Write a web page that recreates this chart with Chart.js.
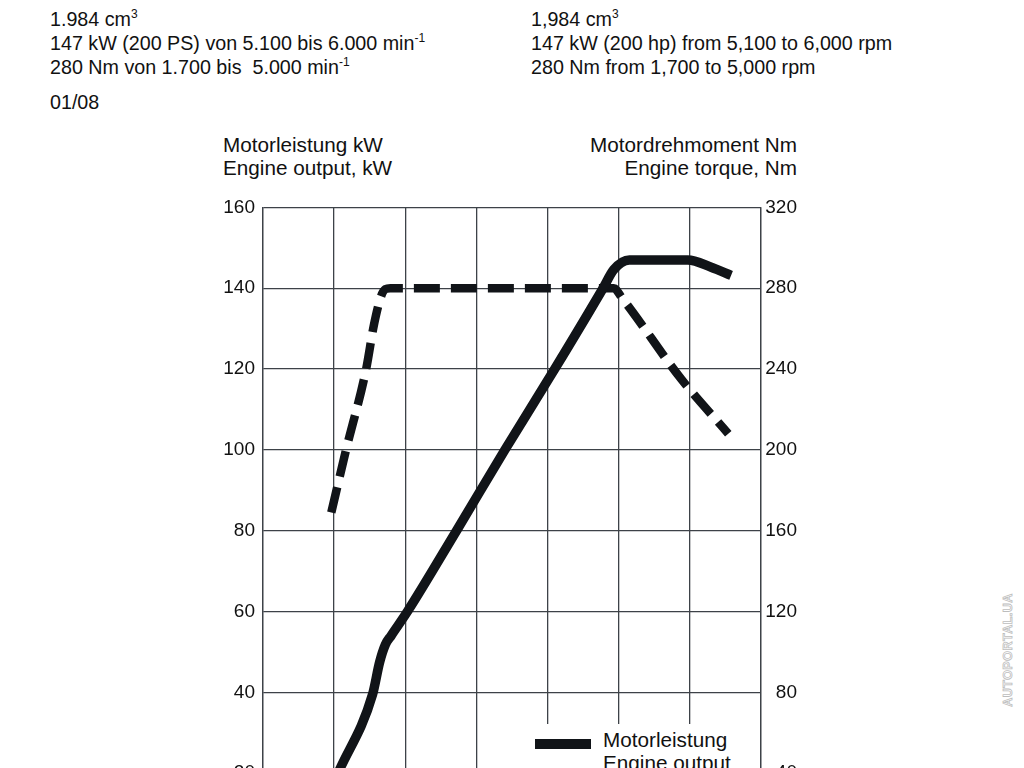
<!DOCTYPE html>
<html>
<head>
<meta charset="utf-8">
<script src="https://cdn.jsdelivr.net/npm/chart.js@4"></script>
<style>
    html, body { margin: 0; padding: 0; background: #fff; }
    body { width: 1024px; height: 768px; overflow: hidden; position: relative;
           font-family: "Liberation Sans", Arial, sans-serif; color: #111; }
    .txt { position: absolute; font-size: 19.7px; line-height: 24px; white-space: nowrap; }
    .txt sup { font-size: 12px; line-height: 0; vertical-align: 8px; }
    .axis-title { position: absolute; font-size: 20.7px; line-height: 23px; white-space: nowrap; }
    #chart-box { position: absolute; left: 223px; top: 188px; width: 574px; height: 706px; }
    #legend { position: absolute; left: 528px; top: 724px; width: 228px; height: 130px;
              background: #fff; z-index: 2; }
    .swatch { position: absolute; left: 7px; width: 56px; height: 10px; }
    .legend-label { position: absolute; left: 75px; font-size: 20.7px; line-height: 23px; white-space: nowrap; }
    #watermark { position: absolute; left: 1008px; top: 650px; transform: translate(-50%, -50%) rotate(-90deg);
                 font-size: 12.5px; font-weight: bold; letter-spacing: 0.5px; color: #fff;
                 -webkit-text-stroke: 0.8px #bdbdbd; white-space: nowrap; }
</style>
</head>
<body>

<div class="txt" style="left:50px; top:7px;">
    1.984 cm<sup>3</sup><br>
    147 kW (200 PS) von 5.100 bis 6.000 min<sup>-1</sup><br>
    280 Nm von 1.700 bis&nbsp; 5.000 min<sup>-1</sup>
</div>
<div class="txt" style="left:50px; top:90px;">01/08</div>

<div class="txt" style="left:531px; top:7px;">
    1,984 cm<sup>3</sup><br>
    147 kW (200 hp) from 5,100 to 6,000 rpm<br>
    280 Nm from 1,700 to 5,000 rpm
</div>

<div class="axis-title" style="left:223px; top:133px;">Motorleistung kW<br>Engine output, kW</div>
<div class="axis-title" style="right:227px; top:133px; text-align:right;">Motordrehmoment Nm<br>Engine torque, Nm</div>

<div id="chart-box"><canvas id="engineChart"></canvas></div>

<div id="legend">
    <div class="swatch" style="top:15px; background:#111418;"></div>
    <div class="legend-label" style="top:4px;">Motorleistung<br>Engine output</div>
    <div class="swatch" style="top:69px; background:repeating-linear-gradient(90deg,#111418 0 26px,transparent 26px 37px);"></div>
    <div class="legend-label" style="top:58px;">Motordrehmoment<br>Engine torque</div>
</div>

<div id="watermark">AUTOPORTAL.UA</div>

<script>
// engine speed in rpm
const powerRpm = [1000, 1080, 1540, 1640, 1720, 1800, 2030, 2720, 3400, 4100, 4780, 4930, 5150, 5970, 6300, 6580];
const powerKw  = [18, 21, 39.5, 47.5, 51.8, 54, 60, 80, 100, 120, 140, 144.6, 147, 147, 145.2, 143.2];

const torqueRpm = [960, 1160, 1450, 1560, 1660, 1720, 1790, 4930, 5050, 5880, 6540];
const torqueNm  = [169, 199, 240, 262, 276, 279.5, 280, 280, 275, 235, 208];

const rpmTicks = [0, 1000, 2000, 3000, 4000, 5000, 6000, 7000];
const kwTicks  = [0, 20, 40, 60, 80, 100, 120, 140, 160];
const nmTicks  = [0, 40, 80, 120, 160, 200, 240, 280, 320];

const INK = '#111418';
const GRID = '#3d4248';

function toPoints(xs, ys) {
    return xs.map((x, i) => ({ x, y: ys[i] }));
}

class EngineChart {
    constructor(canvasId) {
        this.ctx = document.getElementById(canvasId).getContext('2d');
        this.chart = null;
        this.init();
    }

    init() {
        Chart.defaults.font.family = '"Liberation Sans", Arial, sans-serif';
        Chart.defaults.font.size = 19;
        Chart.defaults.color = '#111';

        this.chart = new Chart(this.ctx, {
            type: 'line',
            data: {
                datasets: [
                    this.createDataset('Motorleistung', toPoints(powerRpm, powerKw), 'yPower', []),
                    this.createDataset('Motordrehmoment', toPoints(torqueRpm, torqueNm), 'yTorque', [26, 11])
                ]
            },
            options: this.getOptions()
        });
    }

    createDataset(label, data, yAxisID, dash) {
        return {
            label,
            data,
            yAxisID,
            borderColor: INK,
            backgroundColor: 'transparent',
            borderWidth: dash.length ? 8.5 : 9.5,
            borderDash: dash,
            borderCapStyle: 'butt',
            borderJoinStyle: 'round',
            cubicInterpolationMode: 'monotone',
            pointRadius: 0,
            fill: false
        };
    }

    fixedTicks(values) {
        return (scale) => {
            scale.ticks = values.map(v => ({ value: v }));
        };
    }

    getOptions() {
        return {
            responsive: true,
            maintainAspectRatio: false,
            animation: false,
            layout: { padding: { top: 10, left: 0, right: 0, bottom: 0 } },
            plugins: {
                legend: { display: false },
                tooltip: { enabled: false }
            },
            scales: {
                x: {
                    type: 'linear',
                    min: rpmTicks[0],
                    max: rpmTicks[rpmTicks.length - 1],
                    afterBuildTicks: this.fixedTicks(rpmTicks),
                    afterFit: (s) => { s.height = 40; },
                    grid: { color: GRID, lineWidth: 1.3, drawTicks: false },
                    border: { color: GRID, width: 1.3 },
                    ticks: { padding: 8 }
                },
                yPower: {
                    type: 'linear',
                    position: 'left',
                    min: 0,
                    max: 160,
                    afterBuildTicks: this.fixedTicks(kwTicks),
                    afterFit: (s) => { s.width = 40; },
                    grid: { color: GRID, lineWidth: 1.3, drawTicks: false },
                    border: { color: GRID, width: 1.3 },
                    ticks: { padding: 8 }
                },
                yTorque: {
                    type: 'linear',
                    position: 'right',
                    min: 0,
                    max: 320,
                    afterBuildTicks: this.fixedTicks(nmTicks),
                    afterFit: (s) => { s.width = 36; },
                    grid: { display: false, drawTicks: false },
                    border: { color: GRID, width: 1.3 },
                    ticks: { padding: 4, crossAlign: 'far' }
                }
            }
        };
    }
}

document.addEventListener('DOMContentLoaded', () => {
    new EngineChart('engineChart');
});
</script>
</body>
</html>
